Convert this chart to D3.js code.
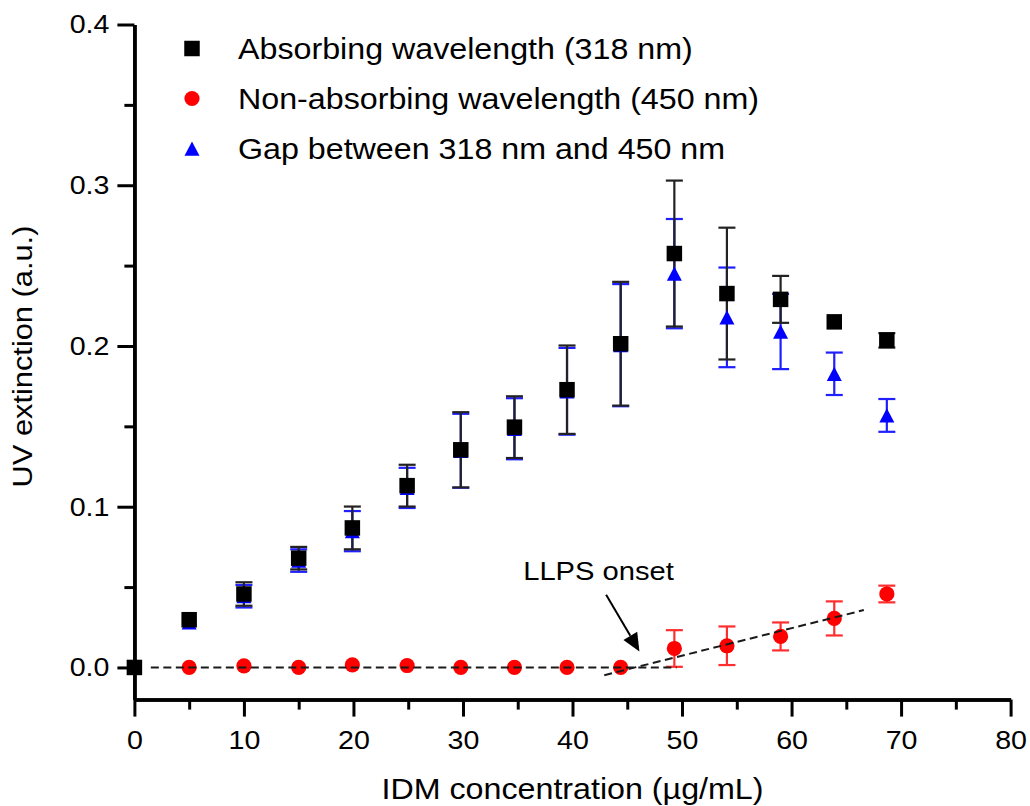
<!DOCTYPE html>
<html>
<head>
<meta charset="utf-8">
<script src="https://cdn.jsdelivr.net/npm/d3@7"></script>
<style>
  html, body { margin: 0; padding: 0; background: #fff; }
  svg { display: block; }
  text { font-family: "Liberation Sans", Arial, Helvetica, sans-serif; fill: #000; }
</style>
</head>
<body>
<svg id="chart" width="1030" height="806"></svg>
<script>
// ---------------- data ----------------
const concentration = [0, 5, 10, 15, 19.9, 24.9, 29.8, 34.7, 39.5, 44.4, 49.3, 54.1, 59.0, 63.9, 68.7];

const absorbing318 = [0, 0.0297, 0.0457, 0.068, 0.0868, 0.1131, 0.1354, 0.1495, 0.1728, 0.2014, 0.2575, 0.2326, 0.229, 0.215, 0.2035];
const absorbing318Err = [0, 0, 0.0073, 0.007, 0.0133, 0.013, 0.0234, 0.0192, 0.0275, 0.0385, 0.0454, 0.041, 0.0146, 0, 0.0045];

const nonAbsorbing450 = [0, 0, 0.001, 0, 0.0016, 0.0012, 0, 0, 0, 0, 0.0118, 0.0135, 0.0193, 0.0305, 0.0457];
const nonAbsorbing450Err = [0, 0, 0, 0, 0, 0, 0, 0, 0, 0, 0.0114, 0.012, 0.0087, 0.0106, 0.0052];

const gapValues = [0, 0.028, 0.0443, 0.0665, 0.0848, 0.1117, 0.1348, 0.1485, 0.1718, 0.2005, 0.245, 0.2178, 0.209, 0.1827, 0.1568];
const gapErr = [0, 0, 0.007, 0.007, 0.0125, 0.0125, 0.023, 0.019, 0.027, 0.038, 0.034, 0.031, 0.0234, 0.0132, 0.0102];

const seriesNames = ["Absorbing wavelength (318 nm)", "Non-absorbing wavelength (450 nm)", "Gap between 318 nm and 450 nm"];

const xTicks = [0, 10, 20, 30, 40, 50, 60, 70, 80];
const xMinorTicks = [5, 15, 25, 35, 45, 55, 65, 75];
const yTicks = [0.0, 0.1, 0.2, 0.3, 0.4];
const yMinorTicks = [0.05, 0.15, 0.25, 0.35];

const xTitle = "IDM concentration (µg/mL)";
const yTitle = "UV extinction (a.u.)";

// guide lines (data units) and annotation
const baselineFit = [[1.5, 0], [49.5, 0]];
const onsetFit = [[42.9, -0.0048], [66.6, 0.0357]];
const arrowFrom = [43.07, 0.0453];
const arrowTo = [46.11, 0.0100];
const annotationText = "LLPS onset";
const annotationPos = [35.5, 0.0545];

// ---------------- layout ----------------
const svg = d3.select("#chart");
const x = d3.scaleLinear().domain([0, 80]).range([134.4, 1010.6]);
const y = d3.scaleLinear().domain([-0.02, 0.4]).range([699.6, 24.5]);

const SX = 1.1; // horizontal glyph stretch seen in the reference
const fontTick = 26;

const cBlack = "#000000", cRed = "#ff0000", cBlue = "#0000ff";
const cBlackErr = "#222222", cRedErr = "#ff2e2e", cBlueErr = "#1f1fff";

// ---------------- axes ----------------
function styleAxis(g) {
  g.select(".domain").attr("stroke", "#000").attr("stroke-width", 3.5);
  g.selectAll(".tick line").attr("stroke", "#000").attr("stroke-width", 3);
}

// minor ticks
svg.append("g").attr("transform", `translate(${x.range()[0]},0)`)
  .call(d3.axisLeft(y).tickValues(yMinorTicks).tickSize(10).tickSizeOuter(0).tickFormat(""))
  .call(styleAxis);
svg.append("g").attr("transform", `translate(0,${y(-0.02)})`)
  .call(d3.axisBottom(x).tickValues(xMinorTicks).tickSize(10).tickSizeOuter(0).tickFormat(""))
  .call(styleAxis);

// major ticks
const gy = svg.append("g").attr("transform", `translate(${x.range()[0]},0)`)
  .call(d3.axisLeft(y).tickValues(yTicks).tickSize(17).tickPadding(8).tickSizeOuter(0).tickFormat(d3.format(".1f")))
  .call(styleAxis);
gy.selectAll(".tick text")
  .attr("font-size", fontTick).attr("fill", "#000")
  .each(function () { const t = d3.select(this); t.attr("x", +t.attr("x") / SX).attr("transform", `scale(${SX},1)`); });

const gx = svg.append("g").attr("transform", `translate(0,${y(-0.02)})`)
  .call(d3.axisBottom(x).tickValues(xTicks).tickSize(17).tickPadding(14).tickSizeOuter(0).tickFormat(d3.format("d")))
  .call(styleAxis);
gx.selectAll(".tick text")
  .attr("font-size", fontTick).attr("fill", "#000")
  .attr("transform", `scale(${SX},1)`);
gy.attr("font-family", null); gx.attr("font-family", null);

// ---------------- symbols ----------------
const triType = {
  draw(ctx, size) {
    const w = Math.sqrt(size) / 2, h = w * 0.95;
    ctx.moveTo(0, -h); ctx.lineTo(w, h); ctx.lineTo(-w, h); ctx.closePath();
  }
};
const sqSym = d3.symbol().type(d3.symbolSquare).size(15.5 * 15.5)();
const ciSym = d3.symbol().type(d3.symbolCircle).size(Math.PI * 7.6 * 7.6)();
const trSym = d3.symbol().type(triType).size(15 * 15)();

function makeRows(vals, errs) {
  return concentration.map((c, i) => ({ c, v: vals[i], e: errs[i] }));
}
const rowsBlack = makeRows(absorbing318, absorbing318Err);
const rowsRed = makeRows(nonAbsorbing450, nonAbsorbing450Err);
const rowsBlue = makeRows(gapValues, gapErr);

function errorBars(rows, color) {
  const g = svg.append("g").attr("stroke", color).attr("stroke-width", 2.2).attr("fill", "none");
  const cap = 8.5;
  rows.filter(d => d.e > 0).forEach(d => {
    const cx = x(d.c), yt = y(d.v + d.e), yb = y(d.v - d.e);
    g.append("line").attr("x1", cx).attr("x2", cx).attr("y1", yt).attr("y2", yb);
    g.append("line").attr("x1", cx - cap).attr("x2", cx + cap).attr("y1", yt).attr("y2", yt);
    g.append("line").attr("x1", cx - cap).attr("x2", cx + cap).attr("y1", yb).attr("y2", yb);
  });
}
function markers(rows, path, color) {
  svg.append("g").selectAll("path").data(rows).join("path")
    .attr("d", path).attr("fill", color)
    .attr("transform", d => `translate(${x(d.c)},${y(d.v)})`);
}

errorBars(rowsBlue, cBlueErr);
errorBars(rowsBlack, cBlackErr);
errorBars(rowsRed, cRedErr);
markers(rowsBlue, trSym, cBlue);
markers(rowsRed, ciSym, cRed);
markers(rowsBlack, sqSym, cBlack);

// ---------------- guide lines ----------------
const line = d3.line().x(d => x(d[0])).y(d => y(d[1]));
[baselineFit, onsetFit].forEach(seg => {
  svg.append("path").attr("d", line(seg)).attr("stroke", "#1a1a1a").attr("stroke-width", 2)
    .attr("stroke-dasharray", "8,4.5").attr("fill", "none");
});

// arrow
{
  const x1 = x(arrowFrom[0]), y1 = y(arrowFrom[1]), x2 = x(arrowTo[0]), y2 = y(arrowTo[1]);
  const ang = Math.atan2(y2 - y1, x2 - x1);
  const L = 18, W = 8;
  const bx = x2 - L * Math.cos(ang), by = y2 - L * Math.sin(ang);
  svg.append("line").attr("x1", x1).attr("y1", y1).attr("x2", bx).attr("y2", by)
    .attr("stroke", "#000").attr("stroke-width", 2);
  const px = -Math.sin(ang), py = Math.cos(ang);
  svg.append("path")
    .attr("d", `M${x2},${y2}L${bx + W * px},${by + W * py}L${bx - W * px},${by - W * py}Z`)
    .attr("fill", "#000");
}

function stretchedText(px, py, str, size, anchor, extra) {
  return svg.append("text")
    .attr("transform", `translate(${px},${py})${extra || ""} scale(${SX},1)`)
    .attr("font-size", size).attr("text-anchor", anchor).text(str);
}

stretchedText(x(annotationPos[0]), y(annotationPos[1]), annotationText, 26.5, "start");

// ---------------- legend ----------------
const legendSyms = [[sqSym, cBlack], [ciSym, cRed], [trSym, cBlue]];
seriesNames.forEach((name, i) => {
  const ly = 48.5 + i * 50;
  svg.append("path").attr("d", legendSyms[i][0]).attr("fill", legendSyms[i][1])
    .attr("transform", `translate(192,${ly})`);
  stretchedText(238, ly + 10.5, name, 29.3, "start");
});

// ---------------- titles ----------------
stretchedText((x.range()[0] + x.range()[1]) / 2, 799, xTitle, 29.3, "middle");
svg.append("text")
  .attr("transform", `translate(31.5,356.5) rotate(-90) scale(${SX},1)`)
  .attr("font-size", 28).attr("text-anchor", "middle").text(yTitle);
</script>
</body>
</html>
